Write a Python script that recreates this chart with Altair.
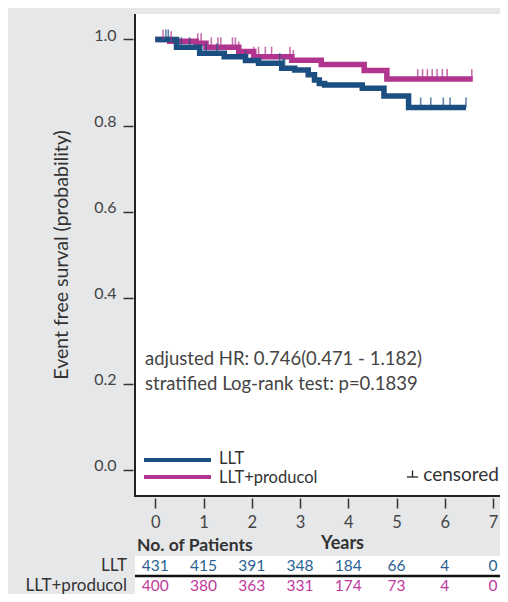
import altair as alt
import pandas as pd

# ---------------- data ----------------
year_ticks = [0, 1, 2, 3, 4, 5, 6, 7]
llt_at_risk = [431, 415, 391, 348, 184, 66, 4, 0]
pro_at_risk = [400, 380, 363, 331, 174, 73, 4, 0]

llt_t = [0, 0.44, 0.92, 1.43, 1.87, 2.14, 2.62, 2.89, 3.17, 3.30, 3.40, 3.51, 4.29, 4.74, 5.25, 6.44]
llt_s = [1.0, 0.982, 0.968, 0.960, 0.951, 0.945, 0.933, 0.929, 0.918, 0.906, 0.898, 0.894, 0.887, 0.869, 0.842, 0.842]

pro_t = [0, 0.30, 0.85, 1.05, 1.73, 2.04, 2.83, 3.44, 4.33, 4.80, 6.58]
pro_s = [1.0, 0.996, 0.991, 0.982, 0.972, 0.960, 0.952, 0.942, 0.928, 0.908, 0.908]

llt_cens = [0.22, 0.27, 0.44, 0.54, 0.71, 1.05, 1.28, 1.87, 2.58, 2.65, 2.68,
            5.50, 5.71, 5.97, 6.11, 6.44]
pro_cens = [0.16, 0.33, 0.88, 0.95, 1.16, 1.30, 1.36, 1.60, 1.66, 1.73, 2.04, 2.14,
            2.28, 2.41, 2.79, 2.86, 5.44, 5.54, 5.64, 5.74, 5.84, 5.95, 6.05, 6.56]

y_ticks = [0.0, 0.2, 0.4, 0.6, 0.8, 1.0]
groups = ["LLT", "LLT+producol"]
blue = "#1c4f81"
mag = "#b1358f"
blue_txt = "#2b5f93"
mag_txt = "#c0399b"
bg = "#e6e7e9"

W, H = 365, 482
FONT = "Lato"


def step_value(ts, ss, t):
    v = ss[0]
    for ti, si in zip(ts, ss):
        if ti <= t:
            v = si
    return v


curve_df = pd.DataFrame(
    [{"t": t, "s": s, "g": groups[0]} for t, s in zip(llt_t, llt_s)]
    + [{"t": t, "s": s, "g": groups[1]} for t, s in zip(pro_t, pro_s)]
)
cens_df = pd.DataFrame(
    [{"t": t, "s": step_value(llt_t, llt_s, t), "g": groups[0]} for t in llt_cens]
    + [{"t": t, "s": step_value(pro_t, pro_s, t), "g": groups[1]} for t in pro_cens]
)
risk_df = pd.DataFrame(
    [{"t": y, "n": str(n), "g": groups[0]} for y, n in zip(year_ticks, llt_at_risk)]
    + [{"t": y, "n": str(n), "g": groups[1]} for y, n in zip(year_ticks, pro_at_risk)]
)

xscale = alt.Scale(domain=[-0.4208, 7.145], nice=False, zero=False)
yscale = alt.Scale(domain=[-0.0604, 1.0592], nice=False, zero=False)
cscale = alt.Scale(domain=groups, range=[blue, mag])

xaxis = alt.Axis(values=year_ticks, format="d", tickSize=10, offset=2,
                 domain=False, grid=False, labelFontSize=16.5,
                 labelPadding=6, labelColor="#444", tickColor="#333",
                 tickWidth=1.5, labelFont=FONT, title=None)
yaxis = alt.Axis(values=y_ticks, format=".1f",
                 tickSize=10, offset=2, domain=False, grid=False,
                 labelFontSize=16, labelPadding=7, labelColor="#444",
                 tickColor="#333", tickWidth=1.5, labelFont=FONT,
                 labelBaseline="alphabetic", labelOffset=1, title=None)

X = alt.X("t:Q", scale=xscale, axis=xaxis, title=None)
Y = alt.Y("s:Q", scale=yscale, axis=yaxis, title=None)

one = pd.DataFrame({"k": [0]})

# ---------------- layers ----------------
band = alt.Chart(one).mark_rect(color="white").encode(
    x=alt.value(0), x2=alt.value(W), y=alt.value(542), y2=alt.value(H + 98)
)
band_rule = alt.Chart(one).mark_rule(color="#111", strokeWidth=2.5).encode(
    x=alt.value(0), x2=alt.value(W), y=alt.value(562)
)
frame_left = alt.Chart(one).mark_rule(color="#222", strokeWidth=2).encode(
    x=alt.value(0), y=alt.value(0), y2=alt.value(H + 1)
)
frame_bottom = alt.Chart(one).mark_rule(color="#222", strokeWidth=2).encode(
    x=alt.value(-1), x2=alt.value(W), y=alt.value(H)
)


def curve(g):
    return alt.Chart(curve_df[curve_df.g == g]).mark_line(
        interpolate="step-after", strokeWidth=5.5, strokeCap="butt", strokeJoin="miter"
    ).encode(x=X, y=Y, color=alt.Color("g:N", scale=cscale, legend=None))


def cens(g):
    return alt.Chart(cens_df[cens_df.g == g]).mark_tick(
        orient="vertical", size=10, thickness=1.6, yOffset=-5
    ).encode(x=X, y=Y, color=alt.Color("g:N", scale=cscale, legend=None))


risk_layers = []
for g, yy, col in [(groups[0], 552, blue_txt), (groups[1], 572, mag_txt)]:
    risk_layers.append(
        alt.Chart(risk_df[risk_df.g == g]).mark_text(
            fontSize=15.5, font=FONT, color=col, baseline="middle", align="center"
        ).encode(x=X, y=alt.value(yy), text="n:N")
    )


def label(txt, x, y, size=15, color="#444", align="left", weight="normal", angle=0):
    kw = dict(fontSize=size, font=FONT, color=color, align=align,
              baseline="middle", fontWeight=weight)
    if angle:
        kw["angle"] = angle
    return alt.Chart(pd.DataFrame({"txt": [txt]})).mark_text(**kw).encode(
        x=alt.value(x), y=alt.value(y), text="txt:N"
    )


texts = [
    label("Event free surval (probability)", -73, 241, size=19.5, color="#333", align="center", angle=270),
    label("adjusted HR: 0.746(0.471 - 1.182)", 10, 345, size=18.5),
    label("stratified Log-rank test: p=0.1839", 10, 370, size=18.5),
    label("LLT", 84, 445, size=16.5, color="#333"),
    label("LLT+producol", 84, 464, size=16.5, color="#333"),
    label("censored", W - 1, 461, size=19, color="#333", align="right"),
    label("No. of Patients", 2, 532, size=17.5, color="#333", weight="bold"),
    label("Years", 186, 529.5, size=18, color="#333", weight="bold"),
    label("LLT", -8, 551.5, size=17, color="#333", align="right"),
    label("LLT+producol", -8, 571.5, size=17, color="#333", align="right"),
]

leg_lines = [
    alt.Chart(one).mark_rule(color=blue, strokeWidth=4).encode(
        x=alt.value(9), x2=alt.value(76), y=alt.value(446)),
    alt.Chart(one).mark_rule(color=mag, strokeWidth=4).encode(
        x=alt.value(9), x2=alt.value(76), y=alt.value(463)),
    alt.Chart(one).mark_rule(color="#222", strokeWidth=1.3).encode(
        x=alt.value(272), x2=alt.value(283), y=alt.value(463)),
    alt.Chart(one).mark_rule(color="#222", strokeWidth=1.3).encode(
        x=alt.value(277.5), y=alt.value(456.5), y2=alt.value(463)),
]

chart = alt.layer(
    band, band_rule,
    curve(groups[1]), curve(groups[0]),
    cens(groups[1]), cens(groups[0]),
    frame_left, frame_bottom,
    *risk_layers, *texts, *leg_lines,
).properties(
    width=W, height=H,
    padding={"left": 127, "top": 6, "right": 0, "bottom": 98},
    autosize=alt.AutoSizeParams(type="none"),
    background=bg,
).configure_view(fill="white", stroke=None)

chart.save("out.html", embed_options={"renderer": "svg", "actions": False})
